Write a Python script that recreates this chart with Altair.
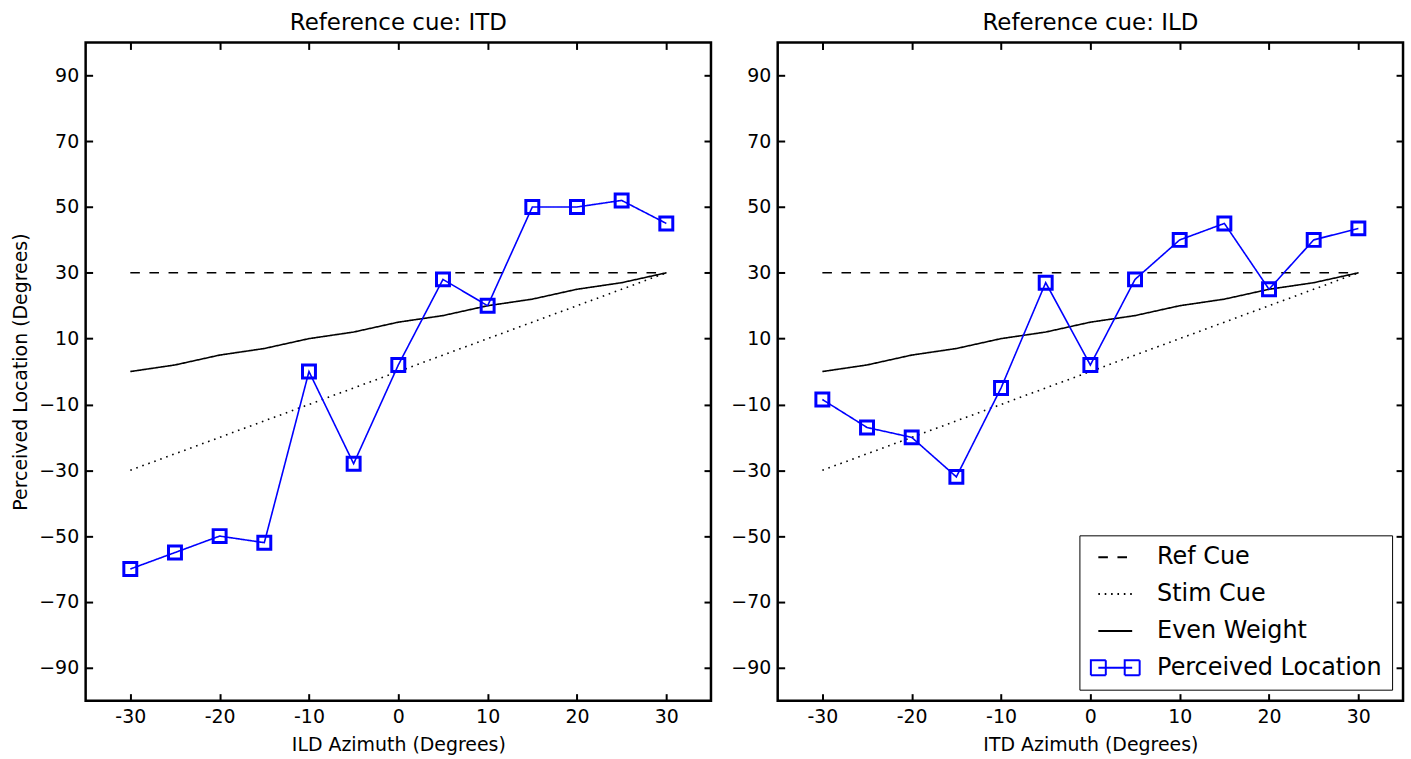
import altair as alt
import pandas as pd

# ---- data ----
x_vals = [-30, -25, -20, -15, -10, -5, 0, 5, 10, 15, 20, 25, 30]
ref_cue = [30, 30, 30, 30, 30, 30, 30, 30, 30, 30, 30, 30, 30]
stim_cue = [-30, -25, -20, -15, -10, -5, 0, 5, 10, 15, 20, 25, 30]
even_weight = [0, 2, 5, 7, 10, 12, 15, 17, 20, 22, 25, 27, 30]
perceived_ref_itd = [-60, -55, -50, -52, 0, -28, 2, 28, 20, 50, 50, 52, 45]
perceived_ref_ild = [-8.5, -17, -20, -32, -5, 27, 2, 28, 40, 45, 25, 40, 43.5]

x_ticks = [-30, -20, -10, 0, 10, 20, 30]
y_ticks = [-90, -70, -50, -30, -10, 10, 30, 50, 70, 90]

series_names = ["Ref Cue", "Stim Cue", "Even Weight", "Perceived Location"]
series_colors = ["#000000", "#000000", "#000000", "#0000ff"]
series_dashes = [[9.6, 9.6], [1.6, 4.8], [1, 0], [1, 0]]
legend_glyphs = [
    "M-1.7,0H1.7",
    "M-1.7,0H1.7",
    "M-1.7,0H1.7",
    "M-1.7,0H1.7M-2.45,-0.75H-0.95V0.75H-2.45ZM0.95,-0.75H2.45V0.75H0.95Z",
]

panel_titles = ["Reference cue: ITD", "Reference cue: ILD"]
x_titles = ["ILD Azimuth (Degrees)", "ITD Azimuth (Degrees)"]
y_title = "Perceived Location (Degrees)"

FONT = "DejaVu Sans"
W, H = 628, 661


def long_frame(perceived):
    rows = []
    for name, ys in zip(series_names, [ref_cue, stim_cue, even_weight, perceived]):
        for xv, yv in zip(x_vals, ys):
            rows.append({"series": name, "x": xv, "y": yv})
    return pd.DataFrame(rows)


def panel(idx, perceived, show_y_title, show_legend):
    df = long_frame(perceived)
    xs = alt.Scale(domain=[-35, 35], nice=False, zero=False)
    ys = alt.Scale(domain=[-100, 100], nice=False, zero=False)

    if show_legend:
        leg = alt.Legend(
            title=None,
            orient="bottom-right",
            offset=11,
            padding=10,
            strokeColor="#000000",
            fillColor="#ffffff",
            cornerRadius=0,
            labelFont=FONT,
            labelFontSize=24,
            labelColor="#000000",
            labelLimit=400,
            labelOffset=30,
            symbolOffset=14,
            symbolSize=400,
            symbolStrokeWidth=2,
            symbolOpacity=1,
            symbolFillColor="transparent",
            rowPadding=13,
        )
    else:
        leg = None

    color = alt.Color(
        "series:N",
        scale=alt.Scale(domain=series_names, range=series_colors),
        legend=leg,
    )
    dash = alt.StrokeDash(
        "series:N",
        scale=alt.Scale(domain=series_names, range=series_dashes),
        legend=leg,
    )

    x_bottom = alt.Axis(
        orient="bottom",
        values=x_ticks,
        labelExpr="'' + datum.value",
        title=x_titles[idx],
        offset=-7,
        labelPadding=7,
        titlePadding=9,
    )
    y_left = alt.Axis(
        orient="left",
        values=y_ticks,
        title=y_title if show_y_title else None,
        offset=-7,
        labelPadding=7,
        titlePadding=8,
    )
    x_top = alt.Axis(orient="top", values=x_ticks, labels=False, title=None, offset=-7)
    y_right = alt.Axis(orient="right", values=y_ticks, labels=False, title=None, offset=-7)

    lines = alt.Chart(df).mark_line(strokeWidth=1.6).encode(
        x=alt.X("x:Q", scale=xs, axis=x_bottom),
        y=alt.Y("y:Q", scale=ys, axis=y_left),
        color=color,
        strokeDash=dash,
        order="x:Q",
    )

    points = (
        alt.Chart(df)
        .transform_filter(alt.datum.series == "Perceived Location")
        .mark_point(shape="square", filled=False, size=169, strokeWidth=3, color="#0000ff", opacity=1)
        .encode(
            x=alt.X("x:Q", scale=xs, axis=x_top),
            y=alt.Y("y:Q", scale=ys, axis=y_right),
        )
    )

    layers = [lines, points]
    if show_legend:
        helper = (
            alt.Chart(df)
            .transform_filter("false")
            .mark_point(filled=False, opacity=1)
            .encode(
                x=alt.X("x:Q", scale=xs, axis=None),
                y=alt.Y("y:Q", scale=ys, axis=None),
                color=color,
                shape=alt.Shape(
                    "series:N",
                    scale=alt.Scale(domain=series_names, range=legend_glyphs),
                    legend=leg,
                ),
            )
        )
        layers.append(helper)

    return (
        alt.layer(*layers)
        .resolve_axis(x="independent", y="independent")
        .properties(
            width=W,
            height=H,
            title=alt.TitleParams(panel_titles[idx], frame="group", anchor="middle"),
        )
    )


left = panel(0, perceived_ref_itd, True, False)
right = panel(1, perceived_ref_ild, False, True)

chart = (
    alt.hconcat(left, right, spacing=15)
    .resolve_scale(color="independent", strokeDash="independent", shape="independent")
    .properties(padding={"left": 10, "top": 9, "right": 5, "bottom": 5}, background="#ffffff")
    .configure_view(stroke="#000000", strokeWidth=2.5)
    .configure_axis(
        domain=False,
        grid=False,
        labelFont=FONT,
        labelFontSize=19,
        labelColor="#000000",
        titleFont=FONT,
        titleFontSize=19,
        titleFontWeight="normal",
        titleColor="#000000",
        tickColor="#000000",
        tickWidth=2,
        tickSize=7,
    )
    .configure_title(font=FONT, fontSize=23, fontWeight="normal", color="#000000", offset=6)
)

chart.save("out.html", embed_options={"renderer": "svg", "actions": False})
